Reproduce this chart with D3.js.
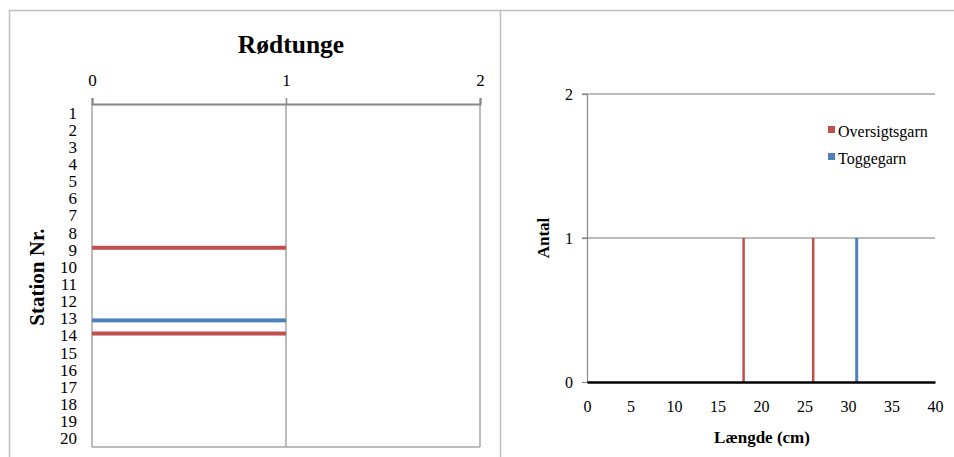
<!DOCTYPE html>
<html>
<head>
<meta charset="utf-8">
<script src="https://cdn.jsdelivr.net/npm/d3@7"></script>
<style>
  html, body { margin: 0; padding: 0; background: #fff; }
  svg text { font-family: "Liberation Serif", "Times New Roman", "DejaVu Serif", serif !important; }
</style>
</head>
<body>
<svg id="chart" width="954" height="457"></svg>
<script>
// Station numbers (category axis, left panel)
const stations = d3.range(1, 21).map(String);
// Gear types (series)
const series = ["Oversigtsgarn", "Toggegarn"];
const seriesColors = ["#C0504D", "#4F81BD"];
// Catch count per station, per gear
const oversigtsgarnPerStation = [0,0,0,0,0,0,0,0,1,0,0,0,0,1,0,0,0,0,0,0];
const toggegarnPerStation     = [0,0,0,0,0,0,0,0,0,0,0,0,1,0,0,0,0,0,0,0];
// Length distribution (right panel): lengths in cm and counts
const oversigtsgarnLengths = [18, 26];
const oversigtsgarnCounts  = [1, 1];
const toggegarnLengths     = [31];
const toggegarnCounts      = [1];
// Tick values
const countTicksLeft = [0, 1, 2];
const countTicksRight = [0, 1, 2];
const lengthTicks = [0, 5, 10, 15, 20, 25, 30, 35, 40];

const svg = d3.select("#chart");
const gridColor = "#a6a6a6";
const frameColor = "#bfbfbf";
const serif = "'Liberation Serif', 'Times New Roman', serif";

// Chart frames
svg.append("line").attr("x1", 9).attr("x2", 954).attr("y1", 10.5).attr("y2", 10.5)
  .attr("stroke", frameColor).attr("stroke-width", 1.5);
svg.append("line").attr("x1", 9.5).attr("x2", 9.5).attr("y1", 10).attr("y2", 457)
  .attr("stroke", frameColor).attr("stroke-width", 1.5);
svg.append("line").attr("x1", 500.5).attr("x2", 500.5).attr("y1", 10).attr("y2", 457)
  .attr("stroke", frameColor).attr("stroke-width", 1.5);

// ---------- Left panel: Rødtunge per station ----------
const L = { left: 92, right: 480, top: 104, bottom: 447 };
const xL = d3.scaleLinear().domain([0, 2]).range([L.left, L.right]);
const yL = d3.scaleBand().domain(stations).range([L.top, L.bottom]);
const ySub = d3.scaleBand().domain(series).range([0, 8]);

const left = svg.append("g");

left.append("text").attr("x", 291).attr("y", 53).attr("text-anchor", "middle")
  .attr("font-size", 25.5).attr("font-weight", "bold").attr("fill", "#000").text("Rødtunge");

// vertical gridlines
left.append("g").selectAll("line").data(countTicksLeft.slice(1)).join("line")
  .attr("x1", d => xL(d)).attr("x2", d => xL(d))
  .attr("y1", L.top).attr("y2", L.bottom)
  .attr("stroke", gridColor).attr("stroke-width", 1.5);
// plot-area left and bottom edges
left.append("line").attr("x1", L.left).attr("x2", L.left).attr("y1", L.top).attr("y2", L.bottom)
  .attr("stroke", gridColor).attr("stroke-width", 1.5);
left.append("line").attr("x1", L.left).attr("x2", L.right).attr("y1", L.bottom).attr("y2", L.bottom)
  .attr("stroke", gridColor).attr("stroke-width", 1.5);

// bars
const leftData = [];
stations.forEach((s, i) => {
  leftData.push({ station: s, gear: series[0], v: oversigtsgarnPerStation[i] });
  leftData.push({ station: s, gear: series[1], v: toggegarnPerStation[i] });
});
left.append("g").selectAll("rect").data(leftData.filter(d => d.v > 0)).join("rect")
  .attr("x", xL(0))
  .attr("y", d => yL(d.station) + yL.bandwidth() / 2 - 4 + ySub(d.gear))
  .attr("width", d => xL(d.v) - xL(0))
  .attr("height", ySub.bandwidth())
  .attr("fill", d => seriesColors[series.indexOf(d.gear)]);

// top value axis
const topAxis = d3.axisTop(xL).tickValues(countTicksLeft).tickFormat(d3.format("d")).tickSize(6).tickPadding(12);
const gTop = left.append("g").attr("transform", `translate(0,${L.top})`).call(topAxis)
  .attr("font-family", serif);
gTop.select(".domain").attr("stroke", "#868686").attr("stroke-width", 2);
gTop.selectAll(".tick line").attr("stroke", "#868686").attr("stroke-width", 1.5);
gTop.selectAll(".tick text").attr("font-size", 17).attr("fill", "#000");

// category labels
left.append("g").selectAll("text").data(stations).join("text")
  .attr("x", 77).attr("y", d => yL(d) + yL.bandwidth() / 2)
  .attr("dy", "0.35em").attr("text-anchor", "end")
  .attr("font-size", 17).attr("fill", "#000").text(d => d);

left.append("text").attr("transform", "translate(44,277) rotate(-90)")
  .attr("text-anchor", "middle").attr("font-size", 21).attr("font-weight", "bold")
  .attr("fill", "#000").text("Station Nr.");

// ---------- Right panel: length distribution ----------
const R = { left: 587, right: 935, top: 94, bottom: 382 };
const xR = d3.scaleLinear().domain([0, 40]).range([R.left, R.right]);
const yR = d3.scaleLinear().domain([0, 2]).range([R.bottom, R.top]);
const right = svg.append("g");

// horizontal gridlines
right.append("g").selectAll("line").data(countTicksRight.slice(1)).join("line")
  .attr("x1", R.left - 5).attr("x2", R.right)
  .attr("y1", d => yR(d)).attr("y2", d => yR(d))
  .attr("stroke", gridColor).attr("stroke-width", 1.5);

// value axis
const yAxisR = d3.axisLeft(yR).tickValues(countTicksRight).tickFormat(d3.format("d")).tickSize(5).tickPadding(9);
const gY = right.append("g").attr("transform", `translate(${R.left},0)`).call(yAxisR)
  .attr("font-family", serif);
gY.select(".domain").attr("stroke", "#868686").attr("stroke-width", 1.2);
gY.selectAll(".tick line").attr("stroke", "#868686").attr("stroke-width", 1.2);
gY.selectAll(".tick text").attr("font-size", 16).attr("fill", "#000");

// length bars
const rightData = [];
oversigtsgarnLengths.forEach((l, i) => rightData.push({ len: l, v: oversigtsgarnCounts[i], gear: series[0], w: 2.5 }));
toggegarnLengths.forEach((l, i) => rightData.push({ len: l, v: toggegarnCounts[i], gear: series[1], w: 3 }));
right.append("g").selectAll("rect").data(rightData).join("rect")
  .attr("x", d => xR(d.len) - d.w / 2)
  .attr("y", d => yR(d.v))
  .attr("width", d => d.w)
  .attr("height", d => yR(0) - yR(d.v))
  .attr("fill", d => seriesColors[series.indexOf(d.gear)]);

// length axis
const xAxisR = d3.axisBottom(xR).tickValues(lengthTicks).tickFormat(d3.format("d")).tickSize(0).tickPadding(19);
const gX = right.append("g").attr("transform", `translate(0,${R.bottom})`).call(xAxisR)
  .attr("font-family", serif);
gX.select(".domain").attr("stroke", "#000").attr("stroke-width", 2.5);
gX.selectAll(".tick text").attr("font-size", 16).attr("fill", "#000");

right.append("text").attr("x", 762).attr("y", 443).attr("text-anchor", "middle")
  .attr("font-size", 17).attr("font-weight", "bold").attr("fill", "#000").text("Længde (cm)");
right.append("text").attr("transform", "translate(549,238) rotate(-90)")
  .attr("text-anchor", "middle").attr("font-size", 17).attr("font-weight", "bold")
  .attr("fill", "#000").text("Antal");

// legend
const legend = right.append("g").selectAll("g").data(series).join("g")
  .attr("transform", (d, i) => `translate(828,${137 + i * 27})`);
legend.append("rect").attr("x", 0).attr("y", -11).attr("width", 7).attr("height", 7)
  .attr("fill", (d, i) => seriesColors[i]);
legend.append("text").attr("x", 10).attr("y", 0)
  .attr("font-size", 16).attr("fill", "#000").text(d => d);
</script>
</body>
</html>
